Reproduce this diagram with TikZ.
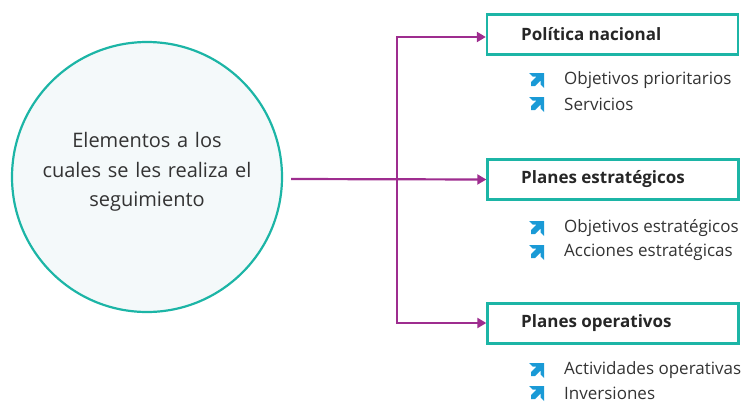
\documentclass[tikz,border=0pt]{standalone}
\usepackage{fontspec}
\setmainfont{Open Sans}
\usetikzlibrary{arrows.meta}
\definecolor{teal}{HTML}{1CB5A6}
\definecolor{purp}{HTML}{9E2D8F}
\definecolor{iconblue}{HTML}{1A9AD6}
\definecolor{txt}{HTML}{333333}
\definecolor{circfill}{HTML}{F4F9FA}
\tikzset{
  every node/.style={text=txt},
  titlebox/.style={draw=teal, line width=2.4pt, minimum width=251pt, minimum height=40pt, inner sep=0pt},
  titletext/.style={font=\fontsize{17}{20}\selectfont\bfseries, anchor=west, inner sep=0pt, text=black!85},
  itemtext/.style={font=\fontsize{17}{20}\selectfont, anchor=west, inner sep=0pt},
  conn/.style={draw=purp, line width=2.2pt, -{Triangle[length=9pt,width=10pt]}},
  icon/.pic={\fill[iconblue] (-6,6) -- (-2,6) -- (3.5,0.5) -- (3.5,4.5) -- (7,8) -- (7,-7) -- (-8,-7) -- (-4.5,-3.5) -- (-0.5,-3.5) -- (-6,2) -- cycle;}
}
\begin{document}
\begin{tikzpicture}[x=1pt,y=-1pt]
\useasboundingbox (0,0) rectangle (746,402);
\node[circle, draw=teal, fill=circfill, line width=2.2pt, minimum size=270pt, inner sep=0pt] (c) at (147,177) {};
\node[font=\fontsize{20}{29.5}\selectfont, align=center, text width=240pt] (ct) at (147,172) {Elementos a los\\cuales se les realiza el\\seguimiento};
\node[titlebox] (b1) at (612.5,34.5) {};
\node[titlebox] (b2) at (613,179.5) {};
\node[titlebox] (b3) at (613,323.5) {};
\node[titletext] (t1) at (521,34.5) {Política nacional};
\node[titletext] (t2) at (521,179.5) {Planes estratégicos};
\node[titletext] (t3) at (521,323.5) {Planes operativos};
\coordinate (s) at (291,179);
\coordinate (j) at (397,179);
\coordinate (j1) at (397,37);
\coordinate (j3) at (397,323);
\draw[conn] (s) -- (b2.west);
\draw[conn] (j) -- (j1) -- (b1.west |- j1);
\draw[conn] (j) -- (j3) -- (b3.west |- j3);
\foreach \y/\t [count=\i] in {80/Objetivos prioritarios,104/Servicios,228/Objetivos estratégicos,252/Acciones estratégicas,370/Actividades operativas,393/Inversiones}{
  \pic at (537,\y) {icon};
  \node[itemtext] (i\i) at (564,\y) {\t};
}
\end{tikzpicture}
\end{document}
